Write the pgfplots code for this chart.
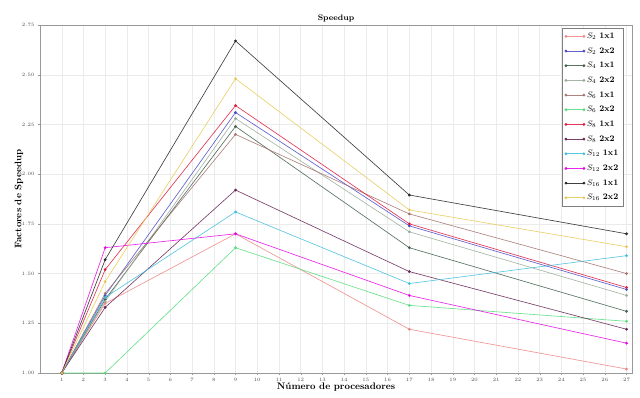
\documentclass[border=0pt]{standalone}
\usepackage{pgfplots}
\pgfplotsset{compat=1.18}
\definecolor{cS2a}{RGB}{238,130,130}
\definecolor{cS2b}{RGB}{70,70,200}
\definecolor{cS4a}{RGB}{60,90,70}
\definecolor{cS4b}{RGB}{150,170,150}
\definecolor{cS6a}{RGB}{160,110,105}
\definecolor{cS6b}{RGB}{80,220,120}
\definecolor{cS8a}{RGB}{220,20,60}
\definecolor{cS8b}{RGB}{100,30,80}
\definecolor{cS12a}{RGB}{60,190,220}
\definecolor{cS12b}{RGB}{230,0,230}
\definecolor{cS16a}{RGB}{30,30,30}
\definecolor{cS16b}{RGB}{230,200,80}
\begin{document}
\begin{tikzpicture}
\begin{axis}[
  scale only axis,
  width=592pt, height=348pt,
  xmin=0, xmax=27.25, ymin=1, ymax=2.75,
  xtick={1,...,27},
  ytick={1,1.25,1.5,1.75,2,2.25,2.5,2.75},
  yticklabel style={/pgf/number format/.cd,fixed,fixed zerofill,precision=2},
  tick label style={font=\fontsize{5}{6}\selectfont, text=black!70},
  grid=major,
  grid style={black!8, line width=0.4pt},
  axis line style={black!40, line width=0.8pt},
  major tick length=2pt,
  tick style={black!40},
  tick align=outside,
  xtick pos=bottom, ytick pos=left,
  title={\textbf{Speedup}},
  title style={font=\fontsize{8}{9}\selectfont, yshift=-7pt},
  xlabel={\textbf{Número de procesadores}},
  ylabel={\textbf{Factores de Speedup}},
  label style={font=\fontsize{9.5}{11}\selectfont},
  xlabel style={yshift=6pt},
  ylabel style={yshift=-8pt},
  every axis plot/.append style={line width=0.65pt, mark=*, mark size=1.1pt, opacity=0.85},
  legend style={at={(0.882,0.991)}, anchor=north west, font=\fontsize{8.5}{10}\selectfont,
    draw=black!50, fill=white, row sep=3.6pt, inner sep=2.5pt},
  legend cell align=left,
  legend image code/.code={\draw[#1] plot coordinates {(0pt,0pt) (18pt,0pt)};},
]
\addplot[color=cS2a] coordinates {(1,1) (3,1.35) (9,1.70) (17,1.22) (27,1.02)};
\addlegendentry{$S_{2}$ \textbf{1x1}}
\addplot[color=cS2b] coordinates {(1,1) (3,1.39) (9,2.31) (17,1.74) (27,1.42)};
\addlegendentry{$S_{2}$ \textbf{2x2}}
\addplot[color=cS4a] coordinates {(1,1) (3,1.37) (9,2.24) (17,1.63) (27,1.31)};
\addlegendentry{$S_{4}$ \textbf{1x1}}
\addplot[color=cS4b] coordinates {(1,1) (3,1.36) (9,2.28) (17,1.71) (27,1.39)};
\addlegendentry{$S_{4}$ \textbf{2x2}}
\addplot[color=cS6a] coordinates {(1,1) (3,1.40) (9,2.20) (17,1.80) (27,1.50)};
\addlegendentry{$S_{6}$ \textbf{1x1}}
\addplot[color=cS6b] coordinates {(1,1) (3,1.00) (9,1.63) (17,1.34) (27,1.26)};
\addlegendentry{$S_{6}$ \textbf{2x2}}
\addplot[color=cS8a] coordinates {(1,1) (3,1.52) (9,2.345) (17,1.75) (27,1.43)};
\addlegendentry{$S_{8}$ \textbf{1x1}}
\addplot[color=cS8b] coordinates {(1,1) (3,1.33) (9,1.92) (17,1.51) (27,1.22)};
\addlegendentry{$S_{8}$ \textbf{2x2}}
\addplot[color=cS12a] coordinates {(1,1) (3,1.38) (9,1.81) (17,1.45) (27,1.59)};
\addlegendentry{$S_{12}$ \textbf{1x1}}
\addplot[color=cS12b] coordinates {(1,1) (3,1.63) (9,1.70) (17,1.39) (27,1.15)};
\addlegendentry{$S_{12}$ \textbf{2x2}}
\addplot[color=cS16a] coordinates {(1,1) (3,1.57) (9,2.67) (17,1.895) (27,1.70)};
\addlegendentry{$S_{16}$ \textbf{1x1}}
\addplot[color=cS16b] coordinates {(1,1) (3,1.46) (9,2.48) (17,1.82) (27,1.635)};
\addlegendentry{$S_{16}$ \textbf{2x2}}
\end{axis}
\pgfresetboundingbox
\path ([shift={(-40pt,-24pt)}]current axis.south west) rectangle ([shift={(8pt,25pt)}]current axis.north east);
\end{tikzpicture}
\end{document}
